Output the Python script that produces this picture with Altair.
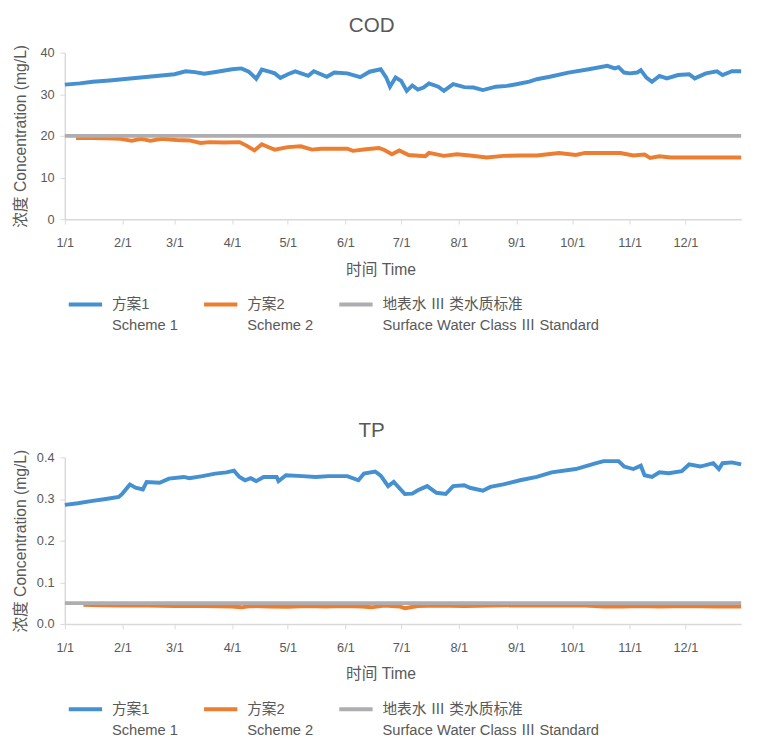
import altair as alt
import pandas as pd

FONT = "Liberation Sans, Noto Sans CJK SC, sans-serif"
TXT = "#595959"
AX = "#D9D9D9"

S1 = "方案1\nScheme 1"
S2 = "方案2\nScheme 2"
S3 = "地表水 Ⅲ 类水质标准\nSurface Water Class Ⅲ Standard"
SERIES = [S1, S2, S3]
COLORS = ["#4590D0", "#ED7D31", "#ADADB2"]

MONTHS = list(range(1, 13))

# ---- COD (mg/L) ----
cod1_days = [0, 8, 15, 24, 31, 38, 45, 52, 59, 65, 70, 75, 82, 90, 95, 99, 101, 103, 106,
             110, 113, 116, 120, 124, 131, 134, 141, 145, 152, 159, 164, 170, 173, 175, 178,
             181, 184, 187, 190, 193, 196, 201, 204, 209, 215, 220, 225, 232, 238, 243, 250,
             254, 261, 271, 282, 292, 296, 298, 301, 304, 308, 310, 313, 316, 320, 324, 330,
             336, 339, 345, 351, 354, 359, 364]
cod1_vals = [32.3, 32.6, 33.0, 33.3, 33.6, 33.9, 34.2, 34.5, 34.8, 35.5, 35.3, 34.9, 35.4,
             36.0, 36.2, 35.4, 34.6, 33.7, 35.9, 35.4, 35.0, 33.9, 34.8, 35.5, 34.4, 35.5,
             34.2, 35.2, 35.0, 34.1, 35.4, 36.0, 34.0, 31.8, 34.0, 33.2, 30.8, 32.1, 31.1,
             31.6, 32.6, 31.8, 30.8, 32.4, 31.7, 31.6, 31.0, 31.8, 32.0, 32.4, 33.0, 33.6,
             34.2, 35.2, 36.0, 36.8, 36.2, 36.5, 35.2, 35.0, 35.2, 35.8, 34.0, 33.0, 34.4,
             33.8, 34.6, 34.8, 33.8, 35.0, 35.5, 34.6, 35.5, 35.5]

cod2_days = [6, 15, 22, 30, 36, 41, 46, 52, 60, 67, 73, 78, 86, 94, 98, 102, 106, 110, 113,
             120, 127, 133, 138, 145, 152, 155, 162, 169, 172, 176, 180, 185, 194, 196, 204,
             211, 218, 227, 236, 245, 254, 266, 275, 280, 290, 299, 306, 312, 315, 320, 326,
             340, 352, 364]
cod2_vals = [19.5, 19.5, 19.4, 19.3, 18.8, 19.3, 18.8, 19.3, 19.0, 18.9, 18.3, 18.5, 18.4,
             18.5, 17.6, 16.5, 18.0, 17.2, 16.7, 17.3, 17.5, 16.7, 16.9, 16.9, 16.9, 16.4,
             16.8, 17.1, 16.6, 15.6, 16.5, 15.4, 15.1, 15.9, 15.2, 15.6, 15.3, 14.8, 15.2,
             15.3, 15.3, 15.9, 15.4, 15.9, 15.9, 15.9, 15.3, 15.5, 14.7, 15.1, 14.8, 14.8,
             14.8, 14.8]

cod_std_days = [0, 364]
cod_std_vals = [20, 20]

# ---- TP (mg/L) ----
tp1_days = [0, 7, 14, 22, 29, 31, 35, 38, 42, 44, 51, 56, 64, 67, 74, 81, 87, 91, 94, 97,
            100, 103, 107, 114, 115, 119, 128, 135, 142, 152, 158, 161, 167, 170, 174, 177,
            183, 187, 190, 195, 200, 205, 209, 215, 218, 225, 229, 236, 245, 254, 262, 275,
            286, 290, 298, 301, 306, 310, 312, 316, 320, 325, 332, 336, 342, 349, 352, 354,
            359, 364]
tp1_vals = [0.286, 0.290, 0.295, 0.300, 0.305, 0.313, 0.335, 0.327, 0.323, 0.341, 0.339,
            0.349, 0.353, 0.350, 0.355, 0.361, 0.364, 0.368, 0.353, 0.345, 0.350, 0.343,
            0.353, 0.353, 0.343, 0.357, 0.355, 0.353, 0.355, 0.355, 0.345, 0.361, 0.366,
            0.356, 0.331, 0.341, 0.312, 0.313, 0.321, 0.331, 0.315, 0.312, 0.331, 0.333,
            0.327, 0.320, 0.329, 0.335, 0.345, 0.353, 0.364, 0.372, 0.386, 0.391, 0.391,
            0.378, 0.372, 0.380, 0.357, 0.353, 0.364, 0.362, 0.367, 0.383, 0.378, 0.386,
            0.372, 0.386, 0.388, 0.383]

tp2_days = [10, 20, 31, 45, 59, 75, 90, 95, 100, 110, 120, 130, 140, 150, 160, 165, 172,
            180, 183, 190, 200, 215, 230, 245, 260, 280, 290, 300, 310, 320, 335, 350, 364]
tp2_vals = [0.046, 0.045, 0.044, 0.044, 0.043, 0.043, 0.042, 0.040, 0.043, 0.042, 0.041,
            0.043, 0.042, 0.043, 0.042, 0.040, 0.044, 0.042, 0.038, 0.043, 0.044, 0.043,
            0.044, 0.045, 0.044, 0.044, 0.042, 0.042, 0.043, 0.042, 0.043, 0.042, 0.042]

tp_std_days = [0, 364]
tp_std_vals = [0.05, 0.05]


def frame(days, vals, name):
    dates = (pd.Timestamp("2019-01-01") + pd.to_timedelta(days, unit="D")).strftime("%Y-%m-%d")
    return pd.DataFrame({"date": list(dates), "value": vals, "series": name})


def panel(title, parts, ymax, yticks):
    df = pd.concat([frame(*p) for p in parts], ignore_index=True)
    x = alt.X(
        "date:T",
        scale=alt.Scale(type="utc", domain=[
            alt.DateTime(year=2019, month=1, date=1, utc=True),
            alt.DateTime(year=2019, month=12, date=31, utc=True)]),
        axis=alt.Axis(
            values=[alt.DateTime(year=2019, month=m, date=1, utc=True) for m in MONTHS],
            labelExpr="utcFormat(datum.value, '%-m/%-d')",
            labelAlign="center", labelFlush=False,
            title="时间  Time", titleX=322, grid=False, labelPadding=13,
            titlePadding=12),
    )
    y = alt.Y(
        "value:Q",
        scale=alt.Scale(domain=[0, ymax], nice=False),
        axis=alt.Axis(values=yticks, title="浓度  Concentration (mg/L)", grid=False,
                      titleX=-37, titleBaseline="bottom", labelPadding=6),
    )
    color = alt.Color(
        "series:N",
        scale=alt.Scale(domain=SERIES, range=COLORS),
        legend=alt.Legend(
            title=None, orient="none", legendX=2, legendY=238, direction="horizontal",
            symbolType="stroke", symbolStrokeWidth=4, symbolSize=1156,
            labelExpr="split(datum.label, '\\n')", labelFontSize=15, labelColor=TXT,
            labelFont=FONT, columnPadding=18, labelOffset=8, labelLimit=400),
    )
    return alt.Chart(df).mark_line(strokeWidth=4).encode(
        x=x, y=y, color=color, order=alt.Order("date:T")
    ).properties(
        width=690, height=170,
        title=alt.TitleParams(title, fontSize=21, color=TXT, font=FONT,
                              fontWeight="normal", dx=-32, offset=6),
    )


top = panel("COD", [(cod1_days, cod1_vals, S1), (cod2_days, cod2_vals, S2),
                    (cod_std_days, cod_std_vals, S3)], 40, [0, 10, 20, 30, 40])
bottom = panel("TP", [(tp1_days, tp1_vals, S1), (tp2_days, tp2_vals, S2),
                      (tp_std_days, tp_std_vals, S3)], 0.4, [0, 0.1, 0.2, 0.3, 0.4])

chart = alt.vconcat(top, bottom, spacing=89).resolve_scale(color="independent").properties(
    padding={"left": 4, "top": 0, "right": 0, "bottom": 0}
).configure(
    style={"guide-label": {"lineHeight": 21}}
).configure_view(stroke=None).configure_axis(
    domainColor=AX, tickColor=AX, tickSize=5, labelColor=TXT, titleColor=TXT,
    labelFont=FONT, titleFont=FONT, labelFontSize=13, titleFontSize=16,
    titleFontWeight="normal", domainWidth=1.5,
)

chart.save("out.html", embed_options={"renderer": "svg", "actions": False})
